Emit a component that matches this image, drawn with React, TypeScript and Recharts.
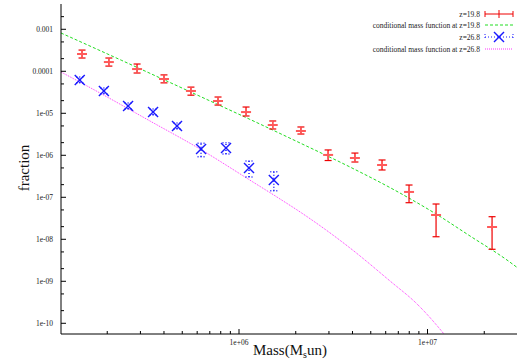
import { ComposedChart, XAxis, YAxis, Line, Scatter, ErrorBar } from "recharts";

const FONT = "'Liberation Serif', 'Times New Roman', serif";
const RED = "#ee0000";
const RED_LIGHT = "#ff5a5a";
const GREEN = "#22dd22";
const BLUE = "#1a1aff";
const MAGENTA = "#ff33ff";

// z=19.8 measured fractions
const z198Mass = [1.47e5, 2.04e5, 2.88e5, 4.0e5, 5.56e5, 7.74e5, 1.09e6, 1.51e6, 2.13e6, 2.97e6, 4.12e6, 5.74e6, 7.98e6, 1.11e7, 2.2e7];
const z198Frac = [2.58e-4, 1.66e-4, 1.13e-4, 6.56e-5, 3.4e-5, 1.96e-5, 1.07e-5, 5.26e-6, 3.79e-6, 1.02e-6, 8.63e-7, 5.87e-7, 1.34e-7, 3.79e-8, 1.96e-8];
const z198Low = [2.07e-4, 1.33e-4, 9.1e-5, 5.3e-5, 2.7e-5, 1.57e-5, 8.63e-6, 4.23e-6, 3.21e-6, 7.5e-7, 6.92e-7, 4.47e-7, 7.43e-8, 1.15e-8, 5.78e-9];
const z198High = [3.2e-4, 2.07e-4, 1.49e-4, 8.2e-5, 4.2e-5, 2.44e-5, 1.41e-5, 6.56e-6, 4.72e-6, 1.34e-6, 1.13e-6, 7.73e-7, 1.96e-7, 6.92e-8, 3.45e-8];

// z=26.8 measured fractions
const z268Mass = [1.43e5, 1.92e5, 2.58e5, 3.5e5, 4.69e5, 6.29e5, 8.53e5, 1.13e6, 1.53e6];
const z268Frac = [6.21e-5, 3.4e-5, 1.49e-5, 1.07e-5, 4.99e-6, 1.41e-6, 1.49e-6, 4.99e-7, 2.58e-7];
const z268Low = [5.3e-5, 2.9e-5, 1.26e-5, 9.1e-6, 4.2e-6, 9.27e-7, 1.07e-6, 3.04e-7, 1.44e-7];
const z268High = [7.3e-5, 4.0e-5, 1.76e-5, 1.26e-5, 5.9e-6, 1.93e-6, 2.0e-6, 7.31e-7, 4.07e-7];

// conditional mass function curves
const cmf198Mass = [1.137e5, 2.39e5, 6.85e5, 1.29e6, 2.11e6, 3.88e6, 7.15e6, 1.11e7, 1.68e7, 2.64e7, 3.02e7];
const cmf198Frac = [8.16e-4, 1.81e-4, 2.07e-5, 5.56e-6, 1.96e-6, 5.26e-7, 1.26e-7, 4.0e-8, 1.2e-8, 3.21e-9, 2.06e-9];
const cmf268Mass = [1.137e5, 1.83e5, 3.37e5, 6.21e5, 1.14e6, 1.65e6, 2.11e6, 3.88e6, 6.32e6, 8.8e6, 1.21e7, 1.32e7];
const cmf268Frac = [9.62e-5, 3.04e-5, 6.56e-6, 1.41e-6, 2.58e-7, 9.12e-8, 4.47e-8, 6.21e-9, 1.02e-9, 2.88e-10, 5.88e-11, 3.59e-11];

const xDomain = [1.137e5, 3.02e7];
const yDomain = [5.56e-11, 4e-3];
const xMajor = [1e6, 1e7];
const xMajorLabels = ["1e+06", "1e+07"];
const xMinor = [2e5, 3e5, 4e5, 5e5, 6e5, 7e5, 8e5, 9e5, 2e6, 3e6, 4e6, 5e6, 6e6, 7e6, 8e6, 9e6, 2e7];
const yMajor = [1e-3, 1e-4, 1e-5, 1e-6, 1e-7, 1e-8, 1e-9, 1e-10];
const yMajorLabels = ["0.001", "0.0001", "1e-05", "1e-06", "1e-07", "1e-08", "1e-09", "1e-10"];
const yMinor = [2e-3, 5e-4, 2e-4, 5e-5, 2e-5, 5e-6, 2e-6, 5e-7, 2e-7, 5e-8, 2e-8, 5e-9, 2e-9, 5e-10, 2e-10];

const legendLabels = ["z=19.8", "conditional mass function at z=19.8", "z=26.8", "conditional mass function at z=26.8"];

const z198 = z198Mass.map((m, i) => ({
  m,
  f: z198Frac[i],
  err: [z198Frac[i] - z198Low[i], z198High[i] - z198Frac[i]],
}));
const z268 = z268Mass.map((m, i) => ({
  m,
  f: z268Frac[i],
  err: [z268Frac[i] - z268Low[i], z268High[i] - z268Frac[i]],
}));
const cmf198 = cmf198Mass.map((m, i) => ({ m, f: cmf198Frac[i] }));
const cmf268 = cmf268Mass.map((m, i) => ({ m, f: cmf268Frac[i] }));

const near = (list: number[], v: number) => list.findIndex((t) => Math.abs(t / v - 1) < 1e-6);

function BottomTick(props: any) {
  const { x, y, payload } = props;
  const mi = near(xMajor, payload.value);
  const len = mi >= 0 ? 5 : 3;
  return (
    <g>
      <line x1={x} x2={x} y1={y} y2={y - len} stroke="#000" />
      {mi >= 0 && (
        <text x={x} y={y + 10.5} textAnchor="middle" fontSize={7.5} fontFamily={FONT} fill="#222">
          {xMajorLabels[mi]}
        </text>
      )}
    </g>
  );
}

function TopTick(props: any) {
  const { x, y, payload } = props;
  const len = near(xMajor, payload.value) >= 0 ? 5 : 3;
  return <line x1={x} x2={x} y1={y} y2={y + len} stroke="#000" />;
}

function LeftTick(props: any) {
  const { x, y, payload } = props;
  const mi = near(yMajor, payload.value);
  const len = mi >= 0 ? 5 : 3;
  return (
    <g>
      <line x1={x} x2={x + len} y1={y} y2={y} stroke="#000" />
      {mi >= 0 && (
        <text x={x - 8} y={y + 2.5} textAnchor="end" fontSize={7.5} fontFamily={FONT} fill="#222">
          {yMajorLabels[mi]}
        </text>
      )}
    </g>
  );
}

function RightTick(props: any) {
  const { x, y, payload } = props;
  const len = near(yMajor, payload.value) >= 0 ? 5 : 3;
  return <line x1={x} x2={x - len} y1={y} y2={y} stroke="#000" />;
}

function Plus(props: any) {
  const { cx, cy } = props;
  return (
    <g>
      <line x1={cx - 5} x2={cx + 5} y1={cy} y2={cy} stroke={RED_LIGHT} strokeWidth={2} />
      <line x1={cx} x2={cx} y1={cy - 4} y2={cy + 4} stroke={RED_LIGHT} strokeWidth={1.5} />
    </g>
  );
}

function Cross(props: any) {
  const { cx, cy } = props;
  return (
    <g stroke={BLUE} strokeWidth={1.4}>
      <line x1={cx - 5} x2={cx + 5} y1={cy - 5} y2={cy + 5} />
      <line x1={cx - 5} x2={cx + 5} y1={cy + 5} y2={cy - 5} />
    </g>
  );
}

function Legend() {
  const rows = [14, 25, 37, 49];
  const x0 = 485;
  const x1 = 513;
  const xm = (x0 + x1) / 2;
  return (
    <svg width={517} height={362} style={{ position: "absolute", left: 0, top: 0, pointerEvents: "none" }}>
      {legendLabels.map((t, i) => (
        <text key={t} x={480} y={rows[i] + 2.5} textAnchor="end" fontSize={7.5} fontFamily={FONT} fill="#222">
          {t}
        </text>
      ))}
      <g stroke={RED}>
        <line x1={x0} x2={x1} y1={rows[0]} y2={rows[0]} />
        <line x1={x0} x2={x0} y1={rows[0] - 3} y2={rows[0] + 3} />
        <line x1={x1} x2={x1} y1={rows[0] - 3} y2={rows[0] + 3} />
        <line x1={xm} x2={xm} y1={rows[0] - 4} y2={rows[0] + 4} />
      </g>
      <line x1={x0} x2={x1} y1={rows[1]} y2={rows[1]} stroke={GREEN} strokeDasharray="3 2" />
      <g stroke={BLUE} strokeDasharray="1 2">
        <line x1={x0} x2={x1} y1={rows[2]} y2={rows[2]} />
        <line x1={x0} x2={x0} y1={rows[2] - 3} y2={rows[2] + 3} />
        <line x1={x1} x2={x1} y1={rows[2] - 3} y2={rows[2] + 3} />
      </g>
      <Cross cx={xm} cy={rows[2]} />
      <line x1={x0} x2={x1} y1={rows[3]} y2={rows[3]} stroke={MAGENTA} strokeDasharray="1 1" />
      <text x={26} y={168} transform="rotate(-90 26 168)" textAnchor="middle" dominantBaseline="middle" fontSize={15} fontFamily={FONT} fill="#111">
        fraction
      </text>
      <text x={290} y={355} textAnchor="middle" fontSize={15} fontFamily={FONT} fill="#111">
        Mass(M<tspan fontSize={10} dy={3}>s</tspan>
        <tspan dy={-3}>un)</tspan>
      </text>
    </svg>
  );
}

export default function App() {
  return (
    <div style={{ position: "absolute", left: 0, top: 0, width: 517, height: 362, overflow: "hidden", background: "#fff" }}>
      <ComposedChart width={522} height={362} margin={{ top: 4, right: 4, bottom: 0, left: 0 }}>
        <XAxis
          xAxisId="b"
          dataKey="m"
          type="number"
          scale="log"
          domain={xDomain}
          allowDataOverflow
          ticks={[...xMinor, ...xMajor]}
          interval={0}
          tickSize={0}
          tickMargin={0}
          tickLine={false}
          tick={<BottomTick />}
          height={28}
          axisLine={{ stroke: "#000" }}
        />
        <XAxis
          xAxisId="t"
          orientation="top"
          dataKey="m"
          type="number"
          scale="log"
          domain={xDomain}
          allowDataOverflow
          ticks={[...xMinor, ...xMajor]}
          interval={0}
          tickSize={0}
          tickMargin={0}
          tickLine={false}
          tick={<TopTick />}
          height={0}
          axisLine={{ stroke: "#000" }}
        />
        <YAxis
          yAxisId="l"
          type="number"
          scale="log"
          domain={yDomain}
          allowDataOverflow
          ticks={[...yMinor, ...yMajor]}
          interval={0}
          tickSize={0}
          tickMargin={0}
          tickLine={false}
          tick={<LeftTick />}
          width={61}
          axisLine={{ stroke: "#000" }}
        />
        <YAxis
          yAxisId="r"
          orientation="right"
          type="number"
          scale="log"
          domain={yDomain}
          allowDataOverflow
          ticks={[...yMinor, ...yMajor]}
          interval={0}
          tickSize={0}
          tickMargin={0}
          tickLine={false}
          tick={<RightTick />}
          width={0}
          axisLine={{ stroke: "#000" }}
        />
        <Line
          xAxisId="b"
          yAxisId="l"
          data={cmf198}
          dataKey="f"
          type="monotone"
          stroke={GREEN}
          strokeWidth={1}
          strokeDasharray="3 2"
          dot={false}
          isAnimationActive={false}
        />
        <Line
          xAxisId="b"
          yAxisId="l"
          data={cmf268}
          dataKey="f"
          type="monotone"
          stroke={MAGENTA}
          strokeWidth={1}
          strokeDasharray="1 1"
          dot={false}
          isAnimationActive={false}
        />
        <Scatter xAxisId="b" yAxisId="l" data={z198} dataKey="f" shape={<Plus />} isAnimationActive={false}>
          <ErrorBar dataKey="err" direction="y" width={3.5} stroke={RED} strokeWidth={1.2} isAnimationActive={false} />
        </Scatter>
        <Scatter xAxisId="b" yAxisId="l" data={z268} dataKey="f" shape={<Cross />} isAnimationActive={false}>
          <ErrorBar dataKey="err" direction="y" width={3.5} stroke={BLUE} strokeDasharray="1 2" isAnimationActive={false} />
        </Scatter>
      </ComposedChart>
      <Legend />
    </div>
  );
}
